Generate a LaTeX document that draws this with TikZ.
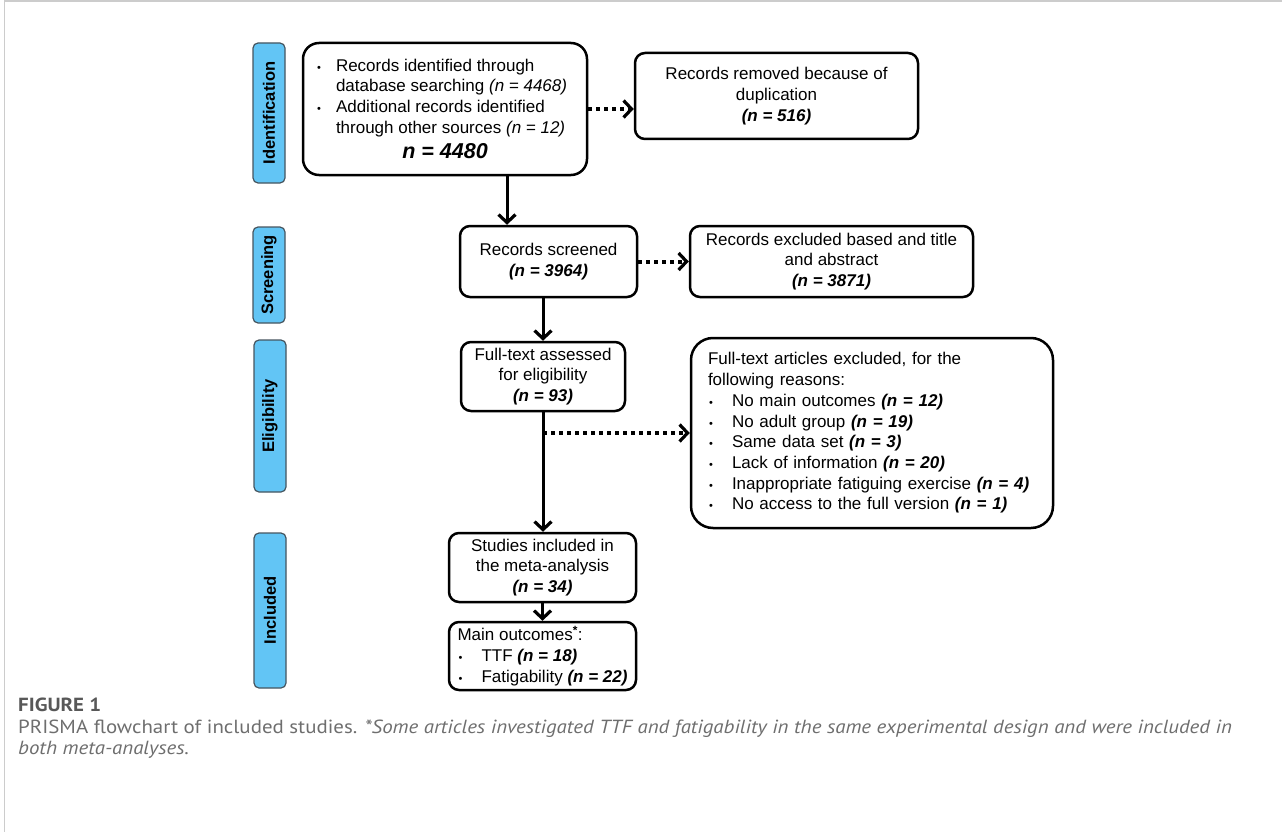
\documentclass[tikz,border=0pt]{standalone}
\usepackage{fontspec}
\setmainfont{Liberation Sans}
\newfontfamily\capfont[FakeStretch=1.1]{PT Sans}
\usetikzlibrary{arrows.meta}
\definecolor{phaseblue}{RGB}{98,197,245}
\definecolor{phaseedge}{RGB}{70,85,95}
\definecolor{capgray}{RGB}{110,110,110}
\newcommand{\bul}[1][20pt]{\makebox[#1][l]{\hspace{1pt}\fontsize{11}{11}\selectfont\textbullet}}
\newcommand{\nval}[1]{\textbf{\textit{(n = #1)}}}
\begin{document}
\begin{tikzpicture}[x=1pt,y=1pt]
    \tikzstyle{every node}+=[inner sep=0pt, font=\fontsize{17}{20.7}\selectfont]
    \tikzstyle{record}=[draw, line width=2.5pt, rounded corners=10pt]
    \tikzstyle{phase}=[draw=phaseedge, fill=phaseblue, line width=1.2pt, rounded corners=5pt, minimum height=32pt, rotate=90, font=\fontsize{16.5}{18}\selectfont\bfseries]
    \tikzstyle{flow}=[line width=3pt, -{Straight Barb[length=8pt,width=17pt,line width=3.2pt]}]
    \tikzstyle{dropped}=[flow, line width=4pt, dash pattern=on 4pt off 4pt]
    \useasboundingbox (0,0) rectangle (1282,-832);
    \draw [black!20, line width=1.5pt] (4.5,-832) -- (4.5,-1) -- (1282,-1);
    % phases
    \node [phase, minimum width=140pt] (identification) at (269,-113) {Identification};
    \node [phase, minimum width=96pt] (screening) at (269,-275) {Screening};
    \node [phase, minimum width=152pt] (eligibility) at (270,-416) {Eligibility};
    \node [phase, minimum width=155pt] (included) at (270,-610.5) {Included};
    % records
    \node [record, minimum width=284pt, minimum height=132pt, rounded corners=16pt, align=left] (ident) at (445,-109)
        {\bul Records identified through\\
         \hspace*{20pt}database searching \textit{(n = 4468)}\\
         \bul Additional records identified\\
         \hspace*{20pt}through other sources \textit{(n = 12)}\\[5pt]
         \makebox[258pt][c]{\fontsize{21.5}{24}\selectfont\bfseries\itshape n = 4480}};
    \node [record, minimum width=283pt, minimum height=86pt, align=center] (dup) at (776.5,-96)
        {Records removed because of\\ duplication\\ \nval{516}};
    \node [record, minimum width=177pt, minimum height=71pt, align=center] (screen) at (548.5,-261.5)
        {Records screened\\ \nval{3964}};
    \node [record, minimum width=283pt, minimum height=71pt, align=center] (titleout) at (831.5,-261.5)
        {Records excluded based and title\\ and abstract\\ \nval{3871}};
    \node [record, minimum width=164pt, minimum height=69pt, align=center] (full) at (543,-376.5)
        {Full-text assessed\\ for eligibility\\ \nval{93}};
    \node [record, minimum width=362pt, minimum height=190pt, rounded corners=22pt, text width=328pt, align=left] (fullout) at (872,-433)
        {Full-text articles excluded, for the\\
         following reasons:\\
         \bul[24pt]No main outcomes \nval{12}\\
         \bul[24pt]No adult group \nval{19}\\
         \bul[24pt]Same data set \nval{3}\\
         \bul[24pt]Lack of information \nval{20}\\
         \bul[24pt]Inappropriate fatiguing exercise \nval{4}\\
         \bul[24pt]No access to the full version \nval{1}};
    \node [record, minimum width=187pt, minimum height=69pt, align=center] (studies) at (542.5,-567.5)
        {Studies included in\\ the meta-analysis\\ \nval{34}};
    \node [record, minimum width=187pt, minimum height=68pt, align=left] (outcomes) at (542.5,-656)
        {Main outcomes\textsuperscript{\textbf{*}}:\\
         \bul[24pt]TTF \nval{18}\\
         \bul[24pt]Fatigability \nval{22}};
    % arrows
    \coordinate (split) at ([xshift=62pt]ident.south);
    \draw [flow] (split) -- (split |- screen.north);
    \draw [flow] (full.north |- screen.south) -- (full.north);
    \draw [flow] (full.south) -- (full.south |- studies.north);
    \draw [flow] (studies.south) -- (outcomes.north);
    \draw [dropped] (ident.east) -- (ident.east -| dup.west);
    \draw [dropped] (screen.east) -- (titleout.west);
    \draw [dropped] (full.south |- fullout.west) -- (fullout.west);
    % caption
    \node [anchor=base west, font=\capfont\fontsize{19}{22}\selectfont\bfseries, text=capgray!80!black] (figno) at (18,-711) {FIGURE 1};
    \node [anchor=base west, font=\capfont\fontsize{19}{22}\selectfont, text=capgray] (cap1) at (18,-733)
        {PRISMA flowchart of included studies. \textit{*Some articles investigated TTF and fatigability in the same experimental design and were included in}};
    \node [anchor=base west, font=\capfont\fontsize{19}{22}\selectfont, text=capgray] (cap2) at (18,-754)
        {\textit{both meta-analyses.}};
\end{tikzpicture}
\end{document}
